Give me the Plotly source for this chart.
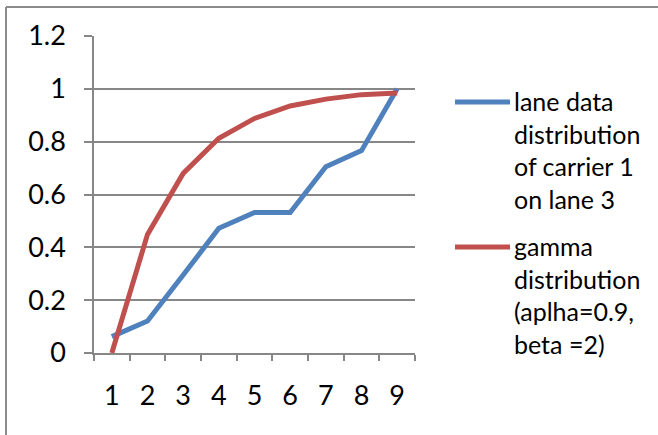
import plotly.graph_objects as go

# Category positions along the x axis
categories = ["1", "2", "3", "4", "5", "6", "7", "8", "9"]

# Cumulative distribution values for each series
lane_data = [0.062, 0.121, 0.295, 0.472, 0.532, 0.532, 0.705, 0.766, 1.0]
gamma_cdf = [0.0, 0.449, 0.680, 0.813, 0.888, 0.935, 0.961, 0.978, 0.984]

lane_name = "lane data<br>distribution<br>of carrier 1<br>on lane 3"
gamma_name = "gamma<br>distribution<br>(aplha=0.9,<br>beta =2)"

BLUE = "#4F81BD"
RED = "#C0504D"
GRID = "#878787"
FONT = "Lato, Calibri, sans-serif"

fig = go.Figure()
fig.add_trace(go.Scatter(x=categories, y=lane_data, mode="lines", name=lane_name,
                         showlegend=False, line=dict(color=BLUE, width=5)))
fig.add_trace(go.Scatter(x=categories, y=gamma_cdf, mode="lines", name=gamma_name,
                         showlegend=False, line=dict(color=RED, width=5)))

W, H = 658, 435
L, R, T, B = 94, 243, 36, 82
PW, PH = W - L - R, H - T - B


def px(x):
    return (x - L) / PW


def py(y):
    return (H - B - y) / PH


fig.update_layout(
    width=W, height=H,
    margin=dict(l=L, r=R, t=T, b=B, pad=0),
    paper_bgcolor="white", plot_bgcolor="white",
    font=dict(family=FONT, size=24, color="black"),
    showlegend=False,
    xaxis=dict(
        type="category", range=[-0.5, 8.5], tickson="boundaries",
        ticks="outside", ticklen=6, tickcolor=GRID, tickwidth=1.5,
        showline=True, linecolor=GRID, linewidth=1.5,
        showgrid=False, zeroline=False, ticklabelstandoff=18,
        tickfont=dict(family=FONT, size=27),
    ),
    yaxis=dict(
        range=[0, 1.2], dtick=0.2,
        ticks="outside", ticklen=8, tickcolor=GRID, tickwidth=1.5,
        showline=True, linecolor=GRID, linewidth=1.5,
        showgrid=True, gridcolor=GRID, gridwidth=1.5,
        zeroline=False, ticklabelstandoff=13,
        tickfont=dict(family=FONT, size=27),
    ),
)

# Legend: a line sample and a wrapped label for each series
legend_items = [(fig.data[0], 102), (fig.data[1], 247)]
for trace, ly in legend_items:
    fig.add_shape(type="line", xref="paper", yref="paper",
                  x0=px(455), x1=px(510), y0=py(ly), y1=py(ly),
                  line=dict(color=trace.line.color, width=5))
    fig.add_annotation(xref="paper", yref="paper", x=px(512), y=py(ly - 18),
                       xanchor="left", yanchor="top", align="left",
                       showarrow=False, text=trace.name,
                       font=dict(family=FONT, size=25, color="black"))

# Chart frame (top and left edges)
fx = px(6)
fy = py(7)
fig.add_shape(type="line", xref="paper", yref="paper",
              x0=fx, x1=2.0, y0=fy, y1=fy,
              line=dict(color="#8C8C8C", width=2))
fig.add_shape(type="line", xref="paper", yref="paper",
              x0=fx, x1=fx, y0=fy, y1=-1.0,
              line=dict(color="#8C8C8C", width=2))

fig.write_html("out.html")
